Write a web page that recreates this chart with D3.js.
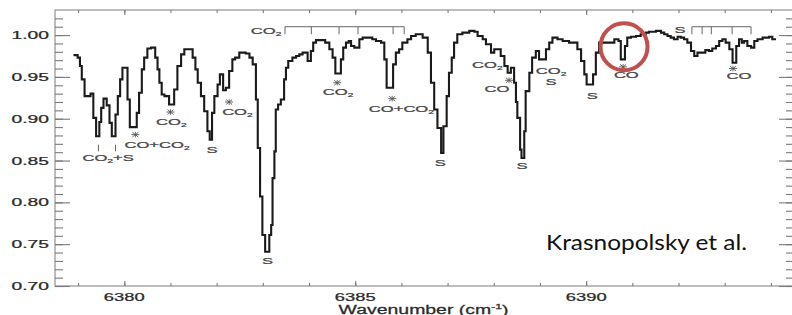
<!DOCTYPE html>
<html>
<head>
<meta charset="utf-8">
<script src="https://cdn.jsdelivr.net/npm/d3@7"></script>
<style>
  body { margin: 0; background: #fff; }
  svg { display: block; }
</style>
</head>
<body>
<svg id="chart" width="792" height="315"></svg>
<script>
// Spectrum steps (left edge of each step, last entry closes the final step)
const wavenumber = [
  6378.90, 6378.99, 6379.04, 6379.08, 6379.14, 6379.27, 6379.33, 6379.39, 6379.46, 6379.50,
  6379.55, 6379.62, 6379.68, 6379.73, 6379.81, 6379.86, 6379.91, 6379.96, 6380.07, 6380.12,
  6380.27, 6380.32, 6380.38, 6380.43, 6380.50, 6380.58, 6380.67, 6380.72, 6380.76, 6380.81,
  6380.87, 6380.97, 6381.08, 6381.15, 6381.23, 6381.30, 6381.48, 6381.54, 6381.59, 6381.66,
  6381.73, 6381.80, 6381.85, 6381.90, 6381.95, 6382.02, 6382.07, 6382.14, 6382.20, 6382.27,
  6382.34, 6382.40, 6382.49, 6382.63, 6382.71, 6382.78, 6382.85, 6382.89, 6382.94, 6382.99,
  6383.05, 6383.14, 6383.18, 6383.21, 6383.25, 6383.28, 6383.33, 6383.39, 6383.46, 6383.50,
  6383.55, 6383.64, 6383.72, 6383.79, 6383.86, 6383.97, 6384.04, 6384.09, 6384.15,
  6384.35, 6384.44, 6384.51, 6384.57, 6384.69, 6384.74, 6384.80, 6384.86, 6384.91, 6384.98,
  6385.09, 6385.16, 6385.37, 6385.45, 6385.56, 6385.63, 6385.68, 6385.82, 6385.88, 6385.95,
  6386.02, 6386.13, 6386.21, 6386.31, 6386.46, 6386.57, 6386.64, 6386.71, 6386.78, 6386.86,
  6386.91, 6386.98, 6387.03, 6387.09, 6387.14, 6387.21, 6387.32, 6387.47, 6387.58, 6387.65,
  6387.76, 6387.83, 6387.94, 6388.01, 6388.15, 6388.23, 6388.30, 6388.37, 6388.44, 6388.48,
  6388.51, 6388.57, 6388.60, 6388.66, 6388.69, 6388.77, 6388.83, 6388.91, 6388.98, 6389.13,
  6389.20, 6389.27, 6389.38, 6389.49, 6389.63, 6389.81, 6389.89, 6389.96, 6390.01, 6390.15,
  6390.21, 6390.28, 6390.61, 6390.70, 6390.75, 6390.84, 6390.89, 6390.97, 6391.08, 6391.18,
  6391.29, 6391.36, 6391.51, 6391.62, 6391.69, 6391.76, 6391.83, 6391.90, 6391.98, 6392.05,
  6392.12, 6392.19, 6392.27, 6392.34, 6392.41, 6392.48, 6392.58, 6392.66, 6392.73, 6392.81,
  6392.88, 6392.95, 6393.02, 6393.10, 6393.17, 6393.25, 6393.31, 6393.37, 6393.42, 6393.49,
  6393.57, 6393.64, 6393.71, 6393.82, 6393.96, 6394.03, 6394.11
];
const transmittance = [
  0.976, 0.973, 0.963, 0.947, 0.927, 0.930, 0.901, 0.879, 0.896, 0.913,
  0.924, 0.916, 0.895, 0.879, 0.905, 0.927, 0.947, 0.961, 0.923, 0.890,
  0.907, 0.931, 0.959, 0.973, 0.984, 0.985, 0.973, 0.959, 0.943, 0.929,
  0.927, 0.917, 0.935, 0.963, 0.977, 0.983, 0.973, 0.959, 0.943, 0.927,
  0.909, 0.885, 0.875, 0.907, 0.927, 0.941, 0.953, 0.934, 0.937, 0.957,
  0.971, 0.973, 0.979, 0.978, 0.973, 0.965, 0.923, 0.865, 0.807, 0.761,
  0.741, 0.761, 0.773, 0.829, 0.861, 0.911, 0.917, 0.923, 0.947, 0.961,
  0.969, 0.973, 0.975, 0.977, 0.979, 0.969, 0.981, 0.991, 0.994,
  0.991, 0.983, 0.973, 0.954, 0.971, 0.985, 0.991, 0.993, 0.987, 0.985,
  0.995, 0.997, 0.995, 0.993, 0.991, 0.971, 0.937, 0.965, 0.979, 0.983,
  0.991, 0.995, 0.999, 1.001, 0.997, 0.979, 0.943, 0.911, 0.889, 0.859,
  0.891, 0.927, 0.955, 0.973, 0.991, 1.001, 1.003, 1.005, 1.004, 0.999,
  0.995, 0.989, 0.979, 0.983, 0.975, 0.963, 0.955, 0.961, 0.943, 0.920,
  0.901, 0.863, 0.853, 0.885, 0.933, 0.955, 0.973, 0.981, 0.971, 0.983,
  0.991, 0.997, 0.995, 0.993, 0.991, 0.983, 0.969, 0.953, 0.941, 0.953,
  0.979, 0.991, 0.995, 0.993, 0.971, 0.987, 0.997, 0.998, 0.999, 1.001,
  1.003, 1.004, 1.005, 1.003, 1.001, 0.999, 0.997, 0.995, 0.998, 0.997,
  0.995, 0.991, 0.981, 0.975, 0.979, 0.979, 0.982, 0.981, 0.984, 0.987,
  0.993, 0.995, 0.991, 0.983, 0.967, 0.987, 0.995, 0.991, 0.993, 0.987,
  0.985, 0.993, 0.995, 0.997, 0.998, 0.995, 0.995
];

// Axis ticks
const yMajorTicks = [0.70, 0.75, 0.80, 0.85, 0.90, 0.95, 1.00];
const yMinorTicks = d3.range(70, 103).map(d => d / 100);
const xMajorTicks = [6380, 6385, 6390];
const xMinorTicks = d3.range(6379, 6395);

// Line identifications ("_2" = subscript)
const speciesLabels = [
  { text: "CO_2+S", wn: 6379.65, t: 0.849 },
  { text: "CO+CO_2", wn: 6380.71, t: 0.865 },
  { text: "CO_2", wn: 6381.02, t: 0.893 },
  { text: "S", wn: 6381.90, t: 0.859 },
  { text: "CO_2", wn: 6382.45, t: 0.904 },
  { text: "CO_2", wn: 6383.07, t: 1.001 },
  { text: "CO_2", wn: 6384.63, t: 0.928 },
  { text: "CO+CO_2", wn: 6386.00, t: 0.908 },
  { text: "S", wn: 6383.10, t: 0.726 },
  { text: "S", wn: 6386.84, t: 0.844 },
  { text: "CO_2", wn: 6387.86, t: 0.961 },
  { text: "CO", wn: 6388.07, t: 0.932 },
  { text: "S", wn: 6388.61, t: 0.840 },
  { text: "CO_2", wn: 6389.24, t: 0.953 },
  { text: "S", wn: 6389.24, t: 0.940 },
  { text: "S", wn: 6390.13, t: 0.924 },
  { text: "CO", wn: 6390.87, t: 0.949 },
  { text: "S", wn: 6392.03, t: 1.003 },
  { text: "CO", wn: 6393.31, t: 0.947 }
];
const asteriskWn = [6380.24, 6381.00, 6382.27, 6384.61, 6385.80, 6388.33, 6390.80, 6393.18];
const asteriskT = [0.881, 0.908, 0.920, 0.943, 0.924, 0.946, 0.962, 0.960];

// Bracket combs above the spectrum
const co2CombWn = [6383.48, 6384.05, 6384.65, 6385.06, 6385.82, 6386.06];
const sCombWn = [6392.29, 6392.51, 6392.71, 6393.16, 6393.57];
const combTop = 1.010;
const combBottom = 1.001;
const co2sMarksWn = [6379.44, 6379.81];

// Highlighted feature
const highlightWn = 6390.82;
const highlightT = 0.986;

const svg = d3.select("#chart");
const plot = { left: 55, right: 794, top: 10, bottom: 286 };
const SX = 1.75; // the original figure is stretched horizontally
const font = "'Liberation Sans', Arial, Helvetica, sans-serif";

const x = d3.scaleLinear().domain([6378.5, 6394.5]).range([plot.left, plot.right]);
const y = d3.scaleLinear().domain([0.70, 1.03]).range([plot.bottom, plot.top]);

// Stretched text with "_n" subscripts
const stretchedText = (g, str, px, py, size, anchor, fill, sx = SX) => {
  const t = g.append("text")
    .attr("transform", `translate(${px},${py}) scale(${sx},1)`)
    .attr("text-anchor", anchor)
    .attr("font-family", font)
    .attr("font-size", size)
    .attr("fill", fill)
    .attr("stroke", fill)
    .attr("stroke-width", 0.25);
  let shift = 0;
  str.split(/(_\d)/).filter(s => s).forEach(part => {
    if (part[0] === "_") {
      t.append("tspan").text(part.slice(1))
        .attr("font-size", size * 0.62).attr("dy", size * 0.22);
      shift = -size * 0.22;
    } else {
      const sp = t.append("tspan").text(part);
      if (shift) sp.attr("dy", shift);
      shift = 0;
    }
  });
  return t;
};

// Frame
svg.append("rect")
  .attr("x", plot.left).attr("y", plot.top)
  .attr("width", plot.right - plot.left).attr("height", plot.bottom - plot.top)
  .attr("fill", "none").attr("stroke", "#9a9a9a").attr("stroke-width", 1.3);

// Tick marks (inward on all four sides)
const tickStyle = g => g.call(s => s.select(".domain").remove())
  .selectAll("line").attr("stroke", "#7a7a7a").attr("stroke-width", 1.1);

svg.append("g").attr("transform", `translate(${plot.left},0)`)
  .call(d3.axisLeft(y).tickValues(yMinorTicks).tickSize(-8).tickFormat("")).call(tickStyle);
svg.append("g").attr("transform", `translate(${plot.left},0)`)
  .call(d3.axisLeft(y).tickValues(yMajorTicks).tickSize(-15).tickFormat("")).call(tickStyle);
svg.append("g").attr("transform", `translate(${plot.right},0)`)
  .call(d3.axisRight(y).tickValues(yMinorTicks).tickSize(-8).tickFormat("")).call(tickStyle);
svg.append("g").attr("transform", `translate(${plot.right},0)`)
  .call(d3.axisRight(y).tickValues(yMajorTicks).tickSize(-15).tickFormat("")).call(tickStyle);
svg.append("g").attr("transform", `translate(0,${plot.bottom})`)
  .call(d3.axisBottom(x).tickValues(xMinorTicks).tickSize(-3).tickFormat("")).call(tickStyle);
svg.append("g").attr("transform", `translate(0,${plot.bottom})`)
  .call(d3.axisBottom(x).tickValues(xMajorTicks).tickSize(-5).tickFormat("")).call(tickStyle);
svg.append("g").attr("transform", `translate(0,${plot.top})`)
  .call(d3.axisTop(x).tickValues(xMinorTicks).tickSize(-3).tickFormat("")).call(tickStyle);
svg.append("g").attr("transform", `translate(0,${plot.top})`)
  .call(d3.axisTop(x).tickValues(xMajorTicks).tickSize(-5).tickFormat("")).call(tickStyle);

// Tick labels
const tickLabels = svg.append("g");
yMajorTicks.forEach(v => stretchedText(tickLabels, d3.format(".2f")(v), 49, y(v) + 4, 11, "end", "#2a2a2a"));
xMajorTicks.forEach(v => stretchedText(tickLabels, String(v), x(v), 300.5, 10.5, "middle", "#2a2a2a"));

// Axis title
const title = svg.append("text")
  .attr("transform", `translate(${x(6386.5) - 1},313.5) scale(1.62,1)`)
  .attr("text-anchor", "middle")
  .attr("font-family", font).attr("font-size", 12).attr("fill", "#2a2a2a")
  .attr("stroke", "#2a2a2a").attr("stroke-width", 0.25);
title.append("tspan").text("Wavenumber (cm");
title.append("tspan").text("-1").attr("font-size", 7.5).attr("dy", -5);
title.append("tspan").text(")").attr("dy", 5);

// Spectrum
const spectrum = wavenumber.map((w, i) => [w, transmittance[i]]);
svg.append("path")
  .datum(spectrum)
  .attr("fill", "none")
  .attr("stroke", "#1a1a1a")
  .attr("stroke-width", 2.1)
  .attr("stroke-linejoin", "miter")
  .attr("d", d3.line().x(d => x(d[0])).y(d => y(d[1])).curve(d3.curveStepAfter));

// Species labels
const ann = svg.append("g");
speciesLabels.forEach(d => stretchedText(ann, d.text, x(d.wn), y(d.t), 9.5, "middle", "#444"));

// Asterisks marking the lines
asteriskWn.forEach((w, i) => {
  const cx = x(w), cy = y(asteriskT[i]);
  ann.append("path")
    .attr("d", `M${cx - 4},${cy}H${cx + 4}M${cx},${cy - 2.8}V${cy + 2.8}` +
      `M${cx - 3},${cy - 2.4}L${cx + 3},${cy + 2.4}M${cx - 3},${cy + 2.4}L${cx + 3},${cy - 2.4}`)
    .attr("stroke", "#555").attr("stroke-width", 0.9).attr("fill", "none");
});

// Combs
const comb = (ticks) => {
  const g = ann.append("g").attr("stroke", "#666").attr("stroke-width", 1).attr("fill", "none");
  g.append("line")
    .attr("x1", x(ticks[0])).attr("x2", x(ticks[ticks.length - 1]))
    .attr("y1", y(combTop)).attr("y2", y(combTop));
  ticks.forEach(w => g.append("line")
    .attr("x1", x(w)).attr("x2", x(w))
    .attr("y1", y(combTop)).attr("y2", y(combBottom)));
};
comb(co2CombWn);
comb(sCombWn);
co2sMarksWn.forEach(w => ann.append("line")
  .attr("x1", x(w)).attr("x2", x(w))
  .attr("y1", y(0.869)).attr("y2", y(0.861))
  .attr("stroke", "#666").attr("stroke-width", 1));

// Red highlight circle
svg.append("circle")
  .attr("cx", x(highlightWn)).attr("cy", y(highlightT))
  .attr("r", 23.5)
  .attr("fill", "none").attr("stroke", "#C0504D").attr("stroke-width", 4);

// Citation
svg.append("text")
  .attr("x", 546).attr("y", 250)
  .attr("font-family", "Lato, 'Open Sans', sans-serif")
  .attr("font-size", 22).attr("fill", "#111")
  .attr("textLength", 201).attr("lengthAdjust", "spacingAndGlyphs")
  .text("Krasnopolsky et al.");
</script>
</body>
</html>
